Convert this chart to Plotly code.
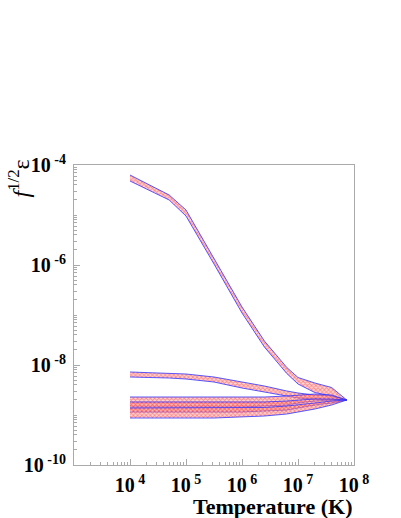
import plotly.graph_objects as go

# log10(T) sampling for all bands
log_t = [4.0, 4.7, 5.0, 5.5, 6.0, 6.4, 6.8, 7.0, 7.3, 7.6, 7.87]

# log10(f^1/2 eps), upper / lower edge of each band
band1_hi = [-4.20, -4.60, -4.90, -5.86, -6.84, -7.52, -8.05, -8.25, -8.36, -8.45, -8.70]
band1_lo = [-4.32, -4.70, -5.02, -5.98, -6.96, -7.64, -8.17, -8.38, -8.55, -8.62, -8.70]
band2_hi = [-8.14, -8.16, -8.18, -8.24, -8.34, -8.42, -8.52, -8.56, -8.60, -8.62, -8.70]
band2_lo = [-8.24, -8.26, -8.28, -8.34, -8.46, -8.54, -8.62, -8.66, -8.68, -8.70, -8.70]
band3_hi = [-8.64, -8.64, -8.64, -8.64, -8.64, -8.64, -8.62, -8.60, -8.58, -8.60, -8.70]
band3_lo = [-8.84, -8.84, -8.84, -8.84, -8.84, -8.82, -8.80, -8.76, -8.72, -8.70, -8.70]
band4_hi = [-8.74, -8.74, -8.74, -8.74, -8.74, -8.74, -8.72, -8.70, -8.68, -8.68, -8.70]
band4_lo = [-8.94, -8.94, -8.94, -8.94, -8.94, -8.92, -8.90, -8.86, -8.80, -8.76, -8.70]
band5_hi = [-8.86, -8.86, -8.86, -8.86, -8.86, -8.85, -8.82, -8.80, -8.76, -8.72, -8.70]
band5_lo = [-9.06, -9.06, -9.06, -9.06, -9.04, -9.02, -8.98, -8.94, -8.88, -8.80, -8.70]

bands = [(band1_hi, band1_lo), (band2_hi, band2_lo), (band3_hi, band3_lo),
         (band4_hi, band4_lo), (band5_hi, band5_lo)]

x_ticks = [1e4, 1e5, 1e6, 1e7, 1e8]
x_ticktext = ["10<sup> 4</sup>", "10<sup> 5</sup>", "10<sup> 6</sup>", "10<sup> 7</sup>", "10<sup> 8</sup>"]
y_ticks = [1e-10, 1e-8, 1e-6, 1e-4]
y_ticktext = ["10<sup> -10</sup>", "10<sup> -8</sup>", "10<sup> -6</sup>", "10<sup> -4</sup>"]

fig = go.Figure()
for hi, lo in bands:
    xs = [10 ** v for v in log_t] + [10 ** v for v in log_t[::-1]]
    ys = [10 ** v for v in hi] + [10 ** v for v in lo[::-1]]
    fig.add_trace(go.Scatter(
        x=xs, y=ys, mode="lines", fill="toself",
        line=dict(color="rgba(50,50,255,0.8)", width=1),
        fillcolor="rgba(255,255,255,0)",
        fillpattern=dict(shape="x", fgcolor="rgba(255,20,20,0.85)", bgcolor="rgba(255,170,170,0.45)",
                         size=3, solidity=0.5, fillmode="overlay"),
        hoverinfo="skip", showlegend=False))

axis_font = dict(family="Liberation Serif", size=20, color="black", weight="bold")

fig.update_xaxes(type="log", range=[3, 8], tickmode="array", tickvals=x_ticks, ticktext=x_ticktext,
                 showline=True, linecolor="#aaaaaa", linewidth=1, mirror=True, showgrid=False,
                 zeroline=False, ticks="inside", ticklen=6, tickcolor="#aaaaaa",
                 ticklabelstandoff=2, tickfont=axis_font,
                 minor=dict(ticks="inside", ticklen=3, tickcolor="#aaaaaa", dtick="D1", showgrid=False))
fig.update_yaxes(type="log", range=[-10, -4], tickmode="array", tickvals=y_ticks, ticktext=y_ticktext,
                 showline=True, linecolor="#aaaaaa", linewidth=1, mirror=True, showgrid=False,
                 zeroline=False, ticks="inside", ticklen=6, tickcolor="#aaaaaa",
                 ticklabelstandoff=3, tickfont=axis_font,
                 minor=dict(ticks="inside", ticklen=3, tickcolor="#aaaaaa", dtick="D1", showgrid=False))

fig.add_annotation(text="<b>Temperature (K)</b>", xref="paper", yref="paper", x=1.0, y=-0.137,
                   xanchor="right", yanchor="middle", showarrow=False,
                   font=dict(family="Liberation Serif", size=22, color="black"))
fig.add_annotation(text="<i>f</i><sup>1/2</sup>ε", xref="paper", yref="paper", x=-0.2, y=0.955,
                   xanchor="center", yanchor="middle", textangle=-90, showarrow=False,
                   font=dict(family="Liberation Serif", size=24, color="black"))

fig.update_layout(width=401, height=518, autosize=False,
                  margin=dict(l=74, r=47, t=165, b=53),
                  paper_bgcolor="white", plot_bgcolor="white")

fig.write_html("out.html", config={"displayModeBar": False},
               post_script="document.body.style.margin='0px';")
